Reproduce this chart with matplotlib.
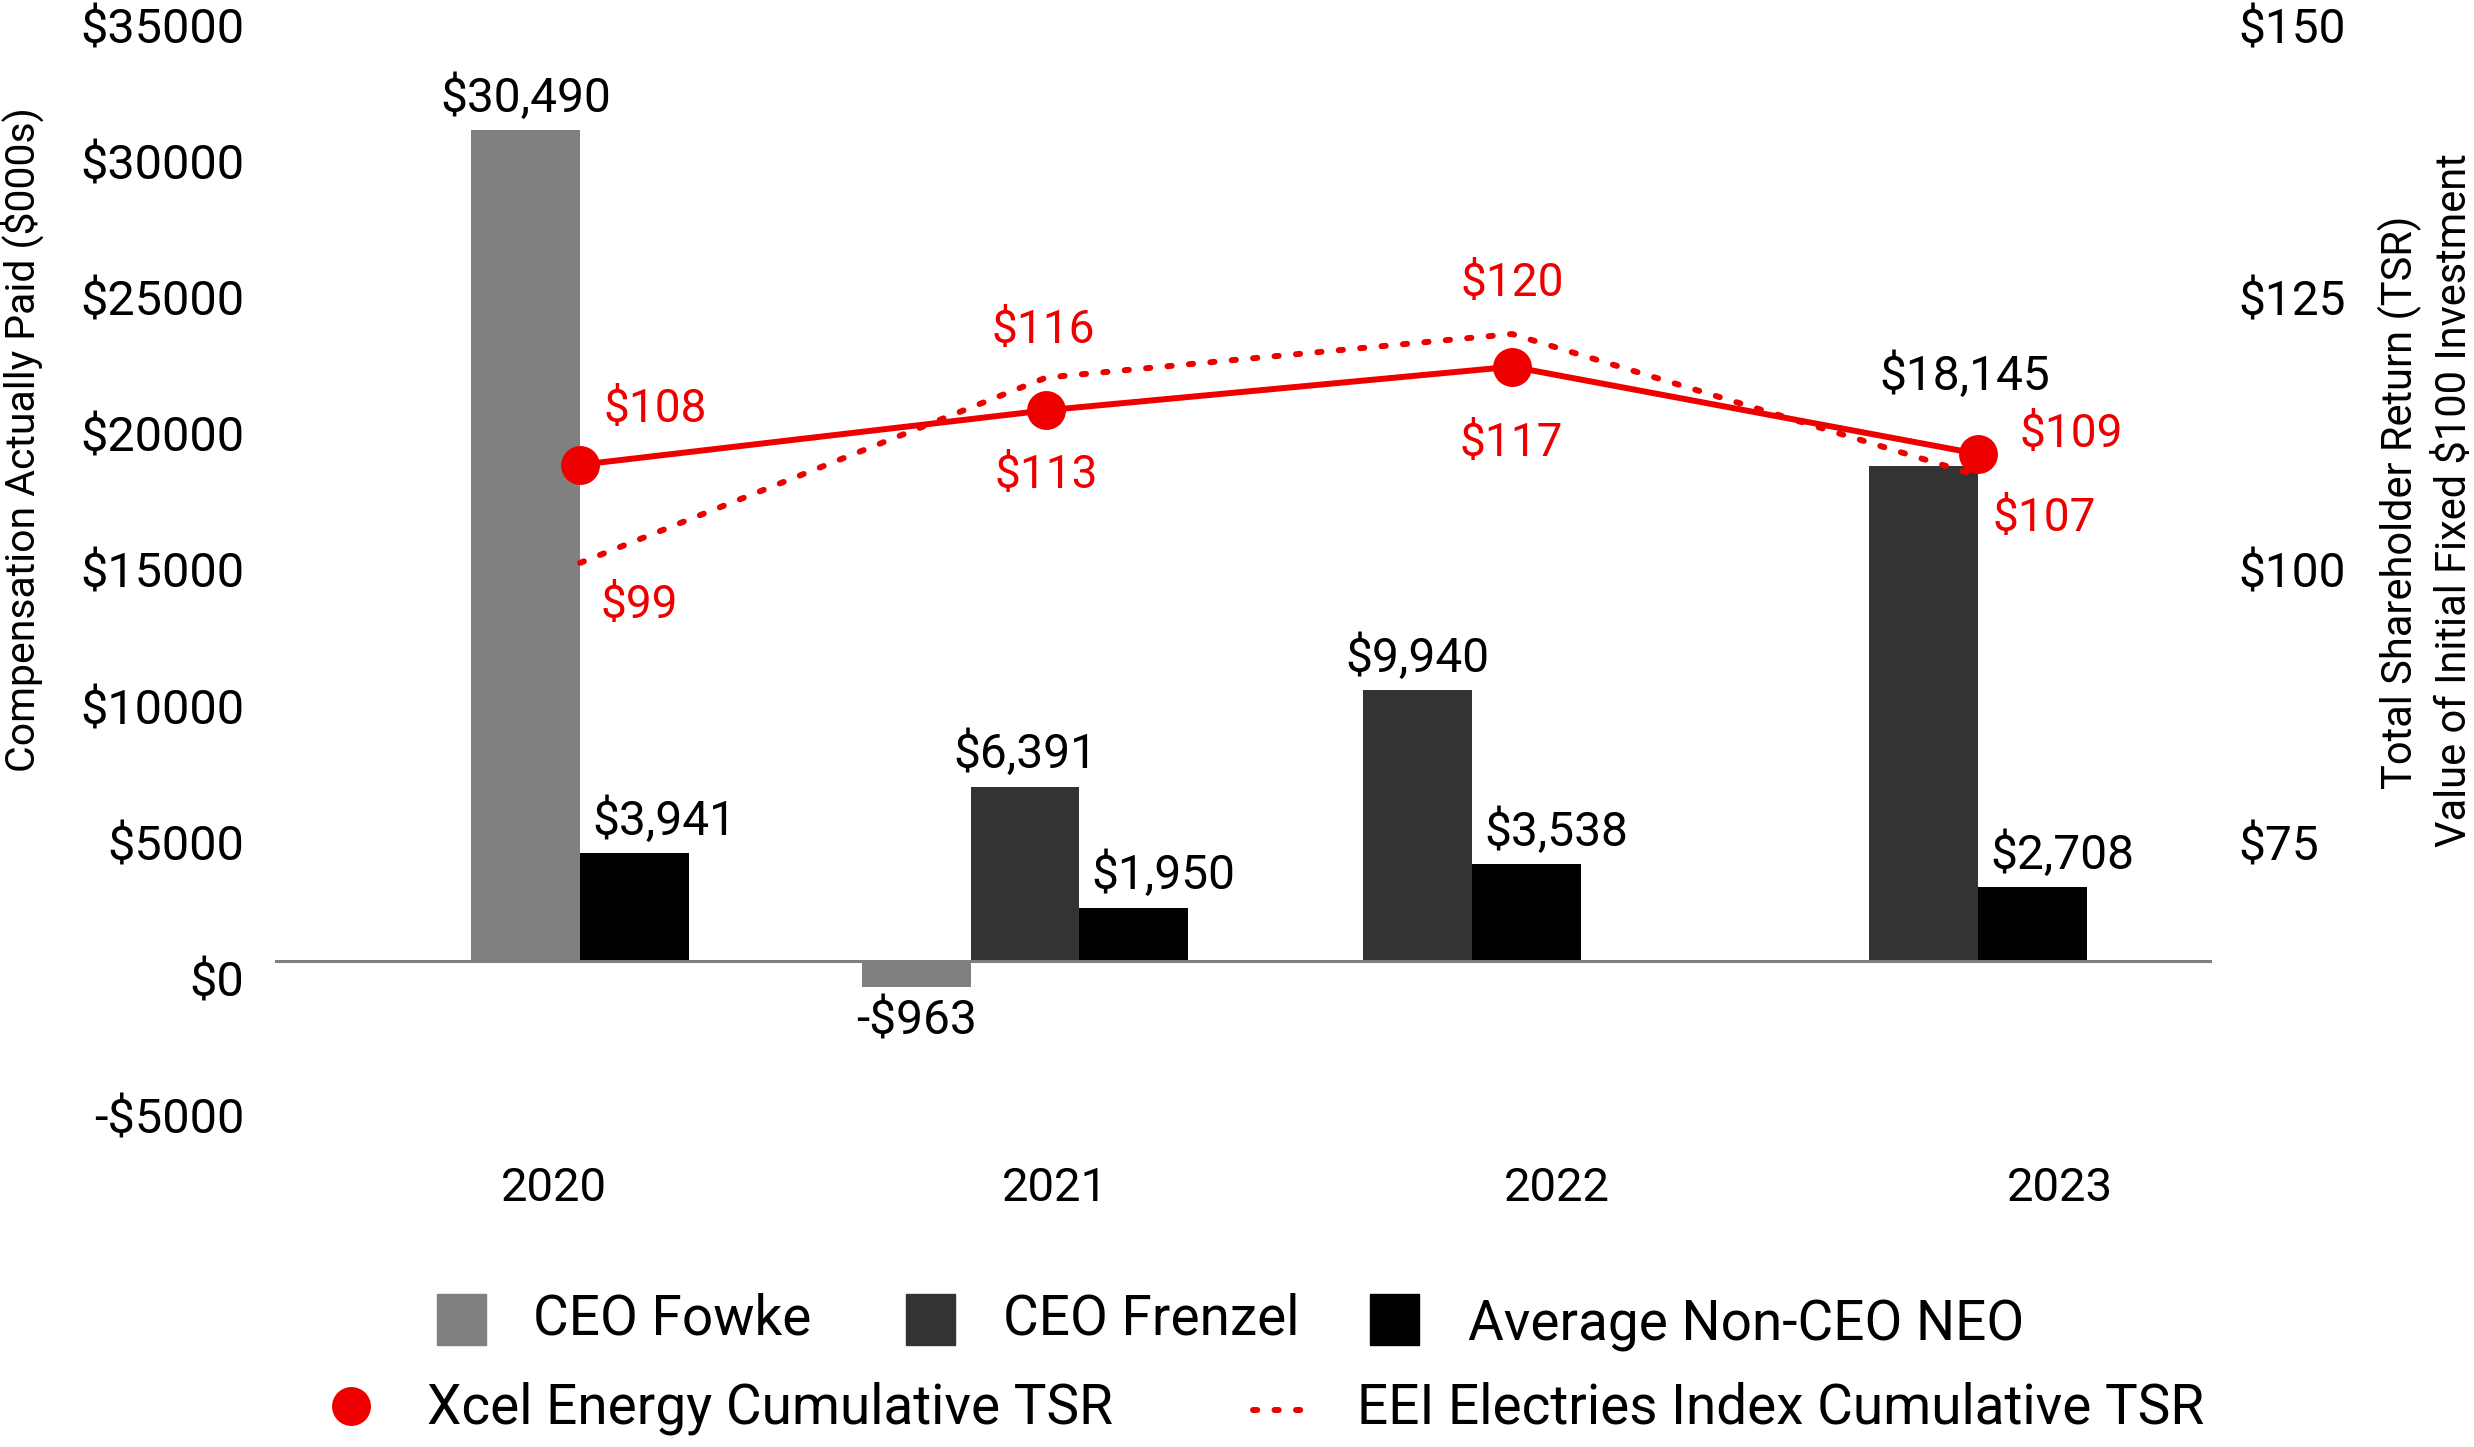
import numpy as np
import matplotlib
matplotlib.use("Agg")
import matplotlib.pyplot as plt
import matplotlib.transforms as mtransforms
from matplotlib.patches import Rectangle
from matplotlib.lines import Line2D

plt.rcParams['font.family'] = ['Roboto', 'DejaVu Sans']
plt.rcParams['font.weight'] = 'normal'

# ========== data ==========
years = ['2020', '2021', '2022', '2023']
ceo_fowke = [30490, -963, np.nan, np.nan]
ceo_frenzel = [np.nan, 6391, 9940, 18145]
avg_neo = [3941, 1950, 3538, 2708]
xcel_tsr = [108, 113, 117, 109]
eei_tsr = [99, 116, 120, 107]

series_names = ['CEO Fowke', 'CEO Frenzel', 'Average Non-CEO NEO']
series_vals = [ceo_fowke, ceo_frenzel, avg_neo]
series_colors = ['#808080', '#333333', '#000000']
red = '#EE0000'

left_ticks = [-5000, 0, 5000, 10000, 15000, 20000, 25000, 30000, 35000]
right_ticks = [75, 100, 125, 150]

# ========== layout ==========
W, H = 2474, 1447
group_x = [0.0, 0.955, 1.914, 3.0]
year_x = [-0.056, 1.019, 2.097, 3.176]
line_x = np.arange(len(years))
bar_w = 0.233


def fx(px):
    return px / W


def fy(py):
    return 1 - py / H


def money(v):
    return f'-${abs(v):,.0f}' if v < 0 else f'${v:,.0f}'


def tick_money(v):
    return f'-${abs(v)}' if v < 0 else f'${v}'


fig = plt.figure(figsize=(W / 100, H / 100), dpi=100)
ax = fig.add_axes([fx(275), fy(1097), fx(2212) - fx(275), fy(7) - fy(1097)])
ax2 = ax.twinx()

# ========== bars ==========
for i, yr in enumerate(years):
    present = [k for k in range(3) if not np.isnan(series_vals[k][i])]
    n = len(present)
    for j, k in enumerate(present):
        v = series_vals[k][i]
        left = group_x[i] - n * bar_w / 2 + j * bar_w
        ax.bar(left, v, width=bar_w, align='edge', color=series_colors[k], zorder=2)
        dx, dy = 0, 32
        if k == 2:
            dx = 30
        if v < 0:
            dy = -35
        if k == 1 and i == 3:
            dx, dy = 41, 90
        ax.annotate(money(v), (left + bar_w / 2, v), xytext=(dx, dy),
                    textcoords='offset pixels', ha='center', va='center',
                    fontsize=34.5, color='black')

ax.axhline(0, color='#808080', lw=2.2, zorder=3)
ax.set_xlim(-0.6545, 3.502)
ax.set_ylim(-5000, 35000)
ax.set_yticks(left_ticks, [tick_money(t) for t in left_ticks])
ax.set_xticks(year_x, years)
ax.tick_params(axis='y', length=0, pad=22, labelsize=35)
ax.tick_params(axis='x', length=0, pad=50, labelsize=34)
for s in ax.spines.values():
    s.set_visible(False)

# ========== TSR lines ==========
ax2.plot(line_x, eei_tsr, color=red, lw=4.3, linestyle=(0, (0.7, 2.9)),
         dash_capstyle='round', zorder=3)
ax2.plot(line_x, xcel_tsr, color=red, lw=4.3, marker='o', markersize=27, zorder=4)
ax2.set_ylim(50, 150)
ax2.set_yticks(right_ticks, [f'${t}' for t in right_ticks])
ax2.tick_params(axis='y', length=0, pad=19, labelsize=34.5)
for s in ax2.spines.values():
    s.set_visible(False)

xcel_off = [(75, 56), (0, -65), (-1, -76), (93, 20)]
eei_off = [(59, -42), (-3, 48), (0, 51), (66, -42)]
for i in range(len(years)):
    ax2.annotate(f'${xcel_tsr[i]}', (line_x[i], xcel_tsr[i]), xytext=xcel_off[i],
                 textcoords='offset pixels', ha='center', va='center',
                 fontsize=33, color=red)
    ax2.annotate(f'${eei_tsr[i]}', (line_x[i], eei_tsr[i]), xytext=eei_off[i],
                 textcoords='offset pixels', ha='center', va='center',
                 fontsize=33, color=red)

# tick labels sit a bit below their gridline value in the original
shift = mtransforms.ScaledTranslation(0, -18 / 100, fig.dpi_scale_trans)
for lab in ax.get_yticklabels() + ax2.get_yticklabels():
    lab.set_transform(lab.get_transform() + shift)

# ========== axis titles ==========
fig.text(fx(22), fy(440), 'Compensation Actually Paid ($000s)', rotation=90,
         ha='center', va='center', fontsize=29.5)
fig.text(fx(2400), fy(502), 'Total Shareholder Return (TSR)', rotation=90,
         ha='center', va='center', fontsize=30)
fig.text(fx(2454), fy(500), 'Value of Initial Fixed $100 Investment', rotation=90,
         ha='center', va='center', fontsize=30)

# ========== legend ==========
sq_x = [437, 906, 1370]
txt_x = [533, 1003, 1468]
txt_y = [1319, 1319, 1326]
for k in range(3):
    fig.add_artist(Rectangle((fx(sq_x[k]), fy(1345)), fx(49), fy(1294) - fy(1345),
                             transform=fig.transFigure, color=series_colors[k]))
    fig.text(fx(txt_x[k]), fy(txt_y[k]), series_names[k], ha='left', va='center',
             fontsize=39.5)

fig.add_artist(Line2D([fx(351)], [fy(1406)], marker='o', markersize=27, color=red,
                      transform=fig.transFigure))
fig.text(fx(427), fy(1408), 'Xcel Energy Cumulative TSR', ha='left', va='center',
         fontsize=39.5)
fig.add_artist(Line2D([fx(1253), fx(1311)], [fy(1410), fy(1410)], color=red, lw=4.3,
                      linestyle=(0, (0.7, 2.9)), dash_capstyle='round',
                      transform=fig.transFigure))
fig.text(fx(1357), fy(1408), 'EEI Electries Index Cumulative TSR', ha='left', va='center',
         fontsize=39.5)

fig.savefig('out.png', dpi=100, facecolor='white')
